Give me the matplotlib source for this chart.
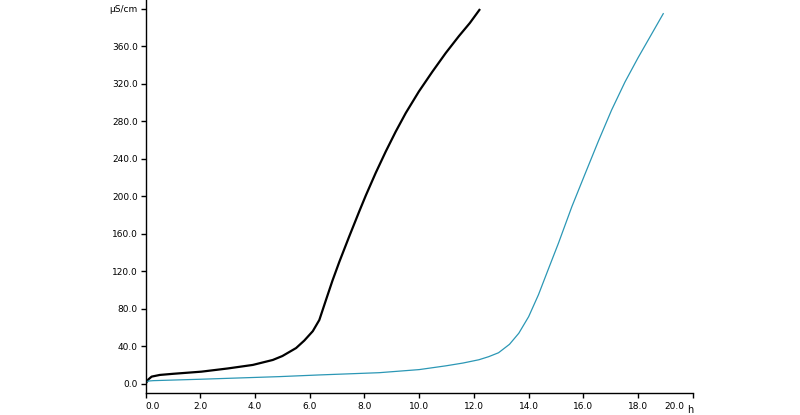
import matplotlib
matplotlib.use("Agg")
import matplotlib.pyplot as plt
from matplotlib.transforms import ScaledTranslation

# conductivity curves (hours vs uS/cm)
black_t = [0, 0.1, 0.22, 0.52, 1.0, 2.04, 3.0, 3.92, 4.65, 5.0, 5.5, 5.8, 6.11,
           6.35, 6.6, 6.83, 7.08, 7.44, 7.81, 8.05, 8.41, 8.78, 9.14, 9.51, 9.99,
           10.48, 10.97, 11.45, 11.85, 12.2]
black_v = [0, 4.5, 7.5, 9.3, 10.5, 12.8, 16.2, 20, 25.3, 29.5, 38, 46, 56,
           68, 90, 110, 130, 157, 184, 201, 225, 248, 269, 289, 312,
           333, 353, 371, 385, 399]

teal_t = [0, 0.1, 0.28, 2.0, 4.89, 6.35, 8.54, 10.0, 10.97, 11.6, 12.18, 12.54,
          12.9, 13.3, 13.64, 14.0, 14.36, 14.73, 15.09, 15.58, 16.07, 16.55,
          17.03, 17.52, 18.0, 18.49, 18.92]
teal_v = [1.5, 2.8, 3.2, 4.7, 7.5, 9.3, 11.7, 15, 19, 22, 25.5, 28.8,
          33, 42, 53.8, 71.5, 95, 123, 150, 189, 224.5, 259,
          292, 322, 348, 373, 395]

x_ticks = [0, 2, 4, 6, 8, 10, 12, 14, 16, 18, 20]
y_ticks = [0, 40, 80, 120, 160, 200, 240, 280, 320, 360, 400]
y_labels = ["%.1f" % v for v in y_ticks[:-1]] + ["µS/cm"]

fig = plt.figure(figsize=(8, 4.15), dpi=100)
ax = fig.add_axes([0.182, 0.0523, 0.684, 0.9477])

ax.plot(black_t, black_v, color="black", lw=1.6)
ax.plot(teal_t, teal_v, color="#2b97b5", lw=0.9)

ax.set_xlim(0, 20)
ax.set_ylim(-10.3, 409.6)

for s in ["top", "right"]:
    ax.spines[s].set_visible(False)
for s in ["left", "bottom"]:
    ax.spines[s].set_linewidth(1.0)
    ax.spines[s].set_color("black")

ax.set_xticks(x_ticks)
ax.set_xticklabels(["%.1f" % v for v in x_ticks])
ax.set_yticks(y_ticks)
ax.set_yticklabels(y_labels)
ax.tick_params(axis="both", direction="out", length=3.5, width=1.0,
               labelsize=6.5, colors="black")
ax.tick_params(axis="x", pad=3)
ax.tick_params(axis="y", pad=2)

# first and last x labels nudged like in the original
ticks = ax.xaxis.get_major_ticks()
ticks[0].label1.set_horizontalalignment("left")
last = ticks[-1].label1
last.set_horizontalalignment("right")
last.set_transform(last.get_transform() + ScaledTranslation(-8 / 100, 0, fig.dpi_scale_trans))

fig.text(687 / 800, 1 - 410 / 415, "h", fontsize=7, ha="left", va="center")

fig.savefig("out.png", dpi=100)
